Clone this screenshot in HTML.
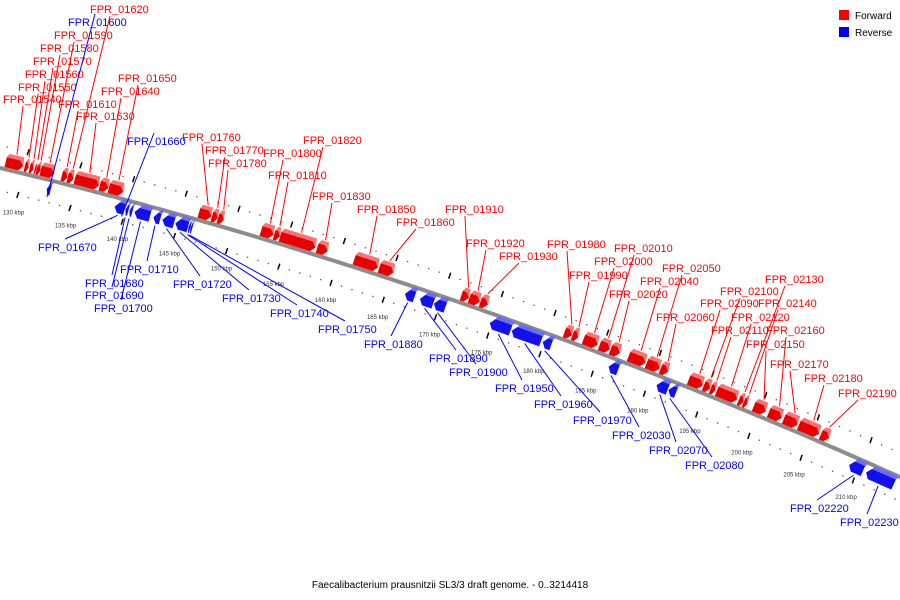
<!DOCTYPE html>
<html><head><meta charset="utf-8"><style>
html,body{margin:0;padding:0;background:#fff;}
svg{display:block;font-family:"Liberation Sans",sans-serif;}
</style></head><body>
<svg id="chart" width="900" height="600" viewBox="0 0 900 600">
<g id="ticks"></g>
<path id="backbone" fill="none" stroke="#8c8c8c" stroke-width="4"></path>
<g id="genes"></g>
<g id="labels"></g>
<g>
<rect x="839" y="10" width="10" height="10" fill="#f00"></rect>
<text x="855" y="19" font-size="10" fill="#000">Forward</text>
<rect x="839" y="27" width="10" height="10" fill="#00f"></rect>
<text x="855" y="36" font-size="10" fill="#000">Reverse</text>
</g>
<text x="450" y="588" font-size="10" text-anchor="middle" fill="#000">Faecalibacterium prausnitzii SL3/3 draft genome. - 0..3214418</text>
</svg>
<script>
const geneNames=["FPR_01540","FPR_01550","FPR_01560","FPR_01570","FPR_01580","FPR_01590","FPR_01600","FPR_01610","FPR_01620","FPR_01630","FPR_01640","FPR_01650","FPR_01660","FPR_01670","FPR_01680","FPR_01690","FPR_01700","FPR_01710","FPR_01720","FPR_01730","FPR_01740","FPR_01750","FPR_01760","FPR_01770","FPR_01780","FPR_01800","FPR_01810","FPR_01820","FPR_01830","FPR_01850","FPR_01860","FPR_01880","FPR_01890","FPR_01900","FPR_01910","FPR_01920","FPR_01930","FPR_01950","FPR_01960","FPR_01970","FPR_01980","FPR_01990","FPR_02000","FPR_02010","FPR_02020","FPR_02040","FPR_02050","FPR_02060","FPR_02030","FPR_02070","FPR_02080","FPR_02090","FPR_02100","FPR_02110","FPR_02120","FPR_02130","FPR_02140","FPR_02150","FPR_02160","FPR_02170","FPR_02180","FPR_02190","FPR_02220","FPR_02230"];
const geneStart=[4,23,28,33,35,39,49,60,66,73,98,107,125,117,128,132,137,156,165,178,191,193,197,210,216,259,272,278,315,352,377,408,423,437,459,467,478,493,515,546,562,570,581,597,608,626,644,658,612,660,672,686,701,708,714,736,741,751,766,781,796,818,853,870];
const geneEnd=[22,27,32,35,39,53,53,66,72,98,107,122,127,127,131,135,153,163,177,191,193,195,210,216,222,272,278,315,326,377,392,418,437,449,467,478,486,515,546,555,570,576,596,608,618,644,658,666,622,672,680,701,708,713,736,741,745,764,780,796,818,827,868,900];
const geneStrand=["F","F","F","F","F","F","R","F","F","F","F","F","R","R","R","R","R","R","R","R","R","R","F","F","F","F","F","F","F","F","F","R","R","R","F","F","F","R","R","R","F","F","F","F","F","F","F","F","R","R","R","F","F","F","F","F","F","F","F","F","F","F","R","R"];
const labelX=[3,18,25,33,40,54,68,58,90,76,101,118,127,38,85,85,94,120,173,222,270,318,182,205,208,263,268,303,312,357,396,364,429,449,445,466,499,495,534,573,547,569,594,614,609,640,662,656,612,649,685,700,720,711,731,765,758,746,766,770,804,838,790,840];
const labelY=[99,87,74,61,48,35,22,104,9,116,91,78,141,247,283,295,308,269,284,298,313,329,137,150,163,153,175,140,196,209,222,344,358,372,209,243,256,388,404,420,244,275,261,248,294,281,268,317,435,450,465,303,291,330,317,279,303,344,330,364,378,393,508,522];
const tickKbp=[130,135,140,145,150,155,160,165,170,175,180,185,190,195,200,205,210];
const tickLabels=tickKbp.map(k=>k+" kbp");

const NS="http://www.w3.org/2000/svg";
function Y(x){return 168+0.239*x+0.000116*x*x;}
function M(x){return 0.239+2*0.000116*x;}
function off(x,v){const m=M(x),s=Math.sqrt(1+m*m);return [x-v*m/s,Y(x)+v/s];}
function kx(k){return 23+10.49*(k-130);}
function mk(tag,attrs,parent){const e=document.createElementNS(NS,tag);for(const a in attrs)e.setAttribute(a,attrs[a]);parent.appendChild(e);return e;}

let d="";for(let x=-10;x<=910;x+=5){d+=(x===-10?"M":"L")+x+","+Y(x).toFixed(1)+" ";}
document.getElementById("backbone").setAttribute("d",d);

const tg=document.getElementById("ticks");
for(let k=127;k<=216;k++){
  [-22,22].forEach(v=>{
    const p=off(kx(k),v);
    if(k%5===0){
      const l=mk("line",{x1:p[0]-1,y1:p[1]+3,x2:p[0]+1,y2:p[1]-3,stroke:"#000","stroke-width":1.5},tg);
      
      
    }else{
      const c=mk("rect",{x:p[0]-0.6,y:p[1]-0.6,width:1.3,height:1.3,fill:"#555"},tg);
      
      
    }
  });
}
tickKbp.forEach((k,i)=>{
  const p=off(kx(k),40);
  const t=mk("text",{x:p[0],y:p[1]+2,"font-size":6,"text-anchor":"middle",fill:"#333"},tg);
  t.textContent=tickLabels[i];
  
  
});

const gg=document.getElementById("genes"),lg=document.getElementById("labels");
geneNames.forEach((n,i)=>{
  const x0=geneStart[i],L=geneEnd[i]-geneStart[i],fwd=geneStrand[i]==="F";
  const ang=Math.atan(M(x0))*180/Math.PI;
  const g=mk("g",{transform:`translate(${x0},${Y(x0)}) rotate(${ang})`},gg);
  
  
  const a=Math.min(4,L/2);
  if(fwd){
    mk("polygon",{points:`2,-16 ${L-1},-16 ${L},-7 ${L-a},-12 0,-12`,fill:"#ff7070"},g);
    mk("polygon",{points:`0,-12 ${L-a},-12 ${L},-7 ${L-a},-2 0,-2`,fill:"#e80000"},g);
  }else{
    mk("polygon",{points:`${a+2},0 ${L+2},0 ${L},4 ${a},4`,fill:"#6a6aff"},g);
    mk("polygon",{points:`${a},4 ${L},4 ${L},15 ${a},15 0,9.5`,fill:"#1010f0"},g);
  }
  const col=fwd?"#f00":"#00f";
  const ly=labelY[i]+4;
  const xm=x0+L/2,end=off(xm,fwd?-17:17);
  const sx=fwd?labelX[i]+20:labelX[i]+27, sy=fwd?ly+3:ly-12;
  const ln=mk("line",{x1:sx,y1:sy,x2:end[0],y2:end[1],stroke:col,"stroke-width":1},lg);
  
  
  const t=mk("text",{x:labelX[i],y:ly,"font-size":11,fill:col},lg);
  t.textContent=n;
  
  
});
</script>
</body></html>
